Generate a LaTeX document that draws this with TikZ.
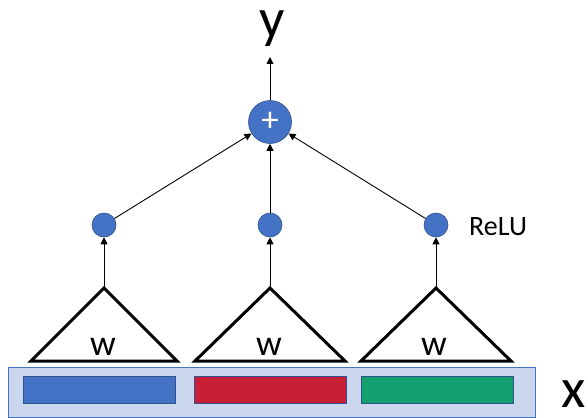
\documentclass[tikz,border=0pt]{standalone}
\usepackage{fontspec}
\setmainfont{Carlito}
\usetikzlibrary{arrows.meta}
\definecolor{accblue}{HTML}{4472C4}
\definecolor{accred}{HTML}{C81F36}
\definecolor{accgreen}{HTML}{139F6E}
\definecolor{edgeblue}{HTML}{2F528F}
\definecolor{panel}{HTML}{CBD7EE}
\tikzset{
  arr/.style={draw=black, line width=0.9pt, -{Triangle[length=7pt,width=7pt]}},
  unit/.style={circle, fill=accblue, draw=edgeblue, line width=0.6pt, minimum size=24pt, inner sep=0pt},
  sumnode/.style={circle, fill=accblue, draw=edgeblue, line width=0.6pt, minimum size=43pt, inner sep=0pt,
    text=white, font=\fontsize{35}{35}\selectfont},
  kernel/.style={draw=black, line width=3pt, fill=white, line join=miter},
  wlabel/.style={anchor=base, inner sep=0pt, font=\fontsize{36}{36}\selectfont},
  biglabel/.style={anchor=base, inner sep=0pt, font=\fontsize{56}{56}\selectfont},
  tag/.style={anchor=base west, inner sep=0pt, font=\fontsize{28}{28}\selectfont},
  segment/.style={draw=edgeblue, line width=0.7pt},
}
\begin{document}
\begin{tikzpicture}[x=1pt, y=-1pt]
  \useasboundingbox (0,0) rectangle (588,417);

  % input strip with its three segments
  \node[draw=accblue, line width=0.8pt, fill=panel, inner sep=0pt, minimum width=527pt, minimum height=50pt,
        anchor=north west] (input) at (8,367) {};
  \node[segment, fill=accblue, inner sep=0pt, minimum width=152pt, minimum height=27pt, anchor=north west] (seg1) at (23,376) {};
  \node[segment, fill=accred, inner sep=0pt, minimum width=152pt, minimum height=27pt, anchor=north west] (seg2) at (194,376) {};
  \node[segment, fill=accgreen, inner sep=0pt, minimum width=152pt, minimum height=27pt, anchor=north west] (seg3) at (361,376) {};
  \node[biglabel] (xlab) at (574,407) {x};

  % shared-weight kernels
  \coordinate (t1) at (104,288);
  \coordinate (t2) at (270,288);
  \coordinate (t3) at (436,288);
  \draw[kernel] (t1) -- (177,361) -- (31,361) -- cycle;
  \draw[kernel] (t2) -- (345,361) -- (195,361) -- cycle;
  \draw[kernel] (t3) -- (511,361) -- (361,361) -- cycle;
  \node[wlabel] (w1) at (103,355) {w};
  \node[wlabel] (w2) at (269,355) {w};
  \node[wlabel] (w3) at (434,355) {w};

  % ReLU units
  \node[unit] (r1) at (104,225) {};
  \node[unit] (r2) at (270,225) {};
  \node[unit] (r3) at (436,225) {};
  \node[tag] (relu) at (469,235) {ReLU};

  % sum and output
  \node[sumnode] (sum) at (270,122) {+};
  \coordinate (out) at (270,57);
  \node[biglabel] (ylab) at (272,38) {y};

  % connectors
  \draw[arr] (t1) -- (r1);
  \draw[arr] (t2) -- (r2);
  \draw[arr] (t3) -- (r3);
  \draw[arr] (r1) -- (sum);
  \draw[arr] (r2) -- (sum);
  \draw[arr] (r3) -- (sum);
  \draw[arr] (sum) -- (out);
\end{tikzpicture}
\end{document}
